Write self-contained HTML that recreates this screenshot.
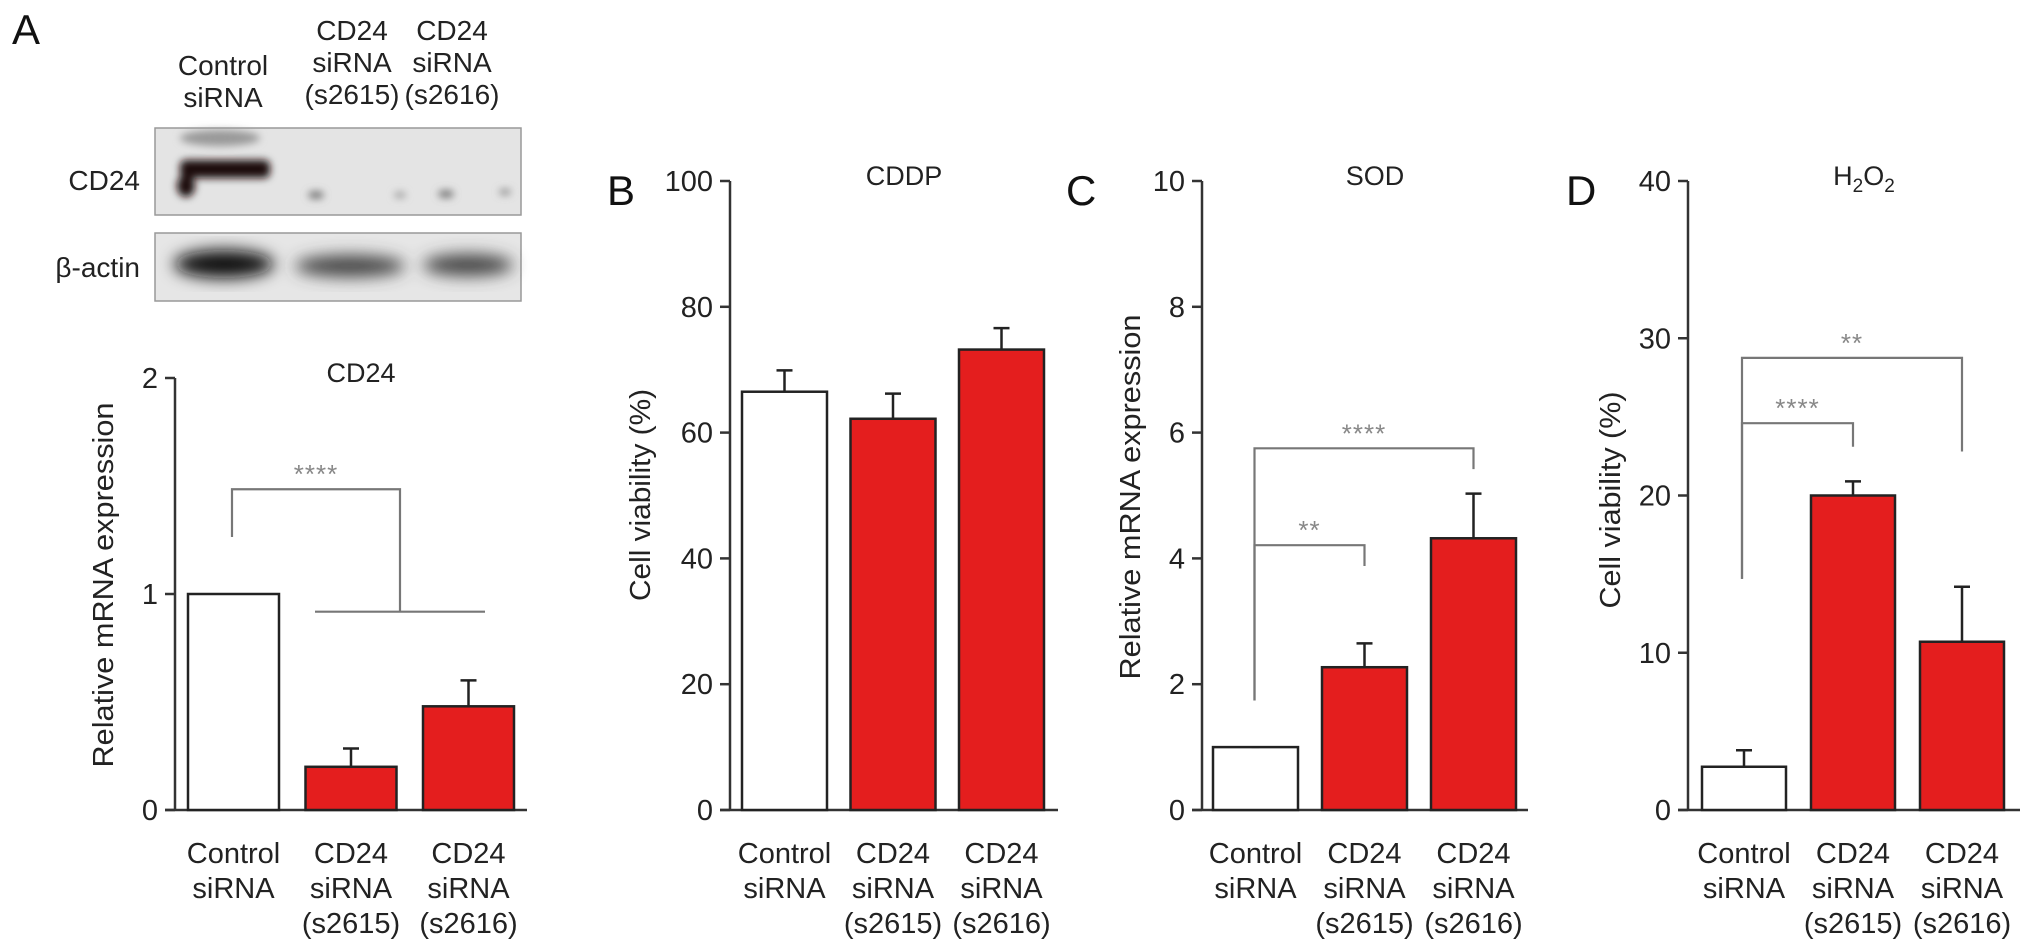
<!DOCTYPE html>
<html><head><meta charset="utf-8">
<style>
html,body{margin:0;padding:0;background:#fff;}
svg{display:block;font-family:"Liberation Sans",Arial,sans-serif;}
</style></head>
<body>
<svg id="fig" xmlns="http://www.w3.org/2000/svg" width="2032" height="951" viewBox="0 0 2032 951">
  <defs>
    <filter id="blur3" x="-20%" y="-50%" width="140%" height="200%"><feGaussianBlur stdDeviation="4"/></filter>
    <filter id="blur6" x="-20%" y="-50%" width="140%" height="200%"><feGaussianBlur stdDeviation="8"/></filter>
  </defs>
  <g>
    <text x="12" y="44" font-size="42" fill="#111">A</text>
    <g font-size="28" fill="#222" text-anchor="middle">
      <text x="223" y="75">Control</text>
      <text x="223" y="107">siRNA</text>
      <text x="352" y="40">CD24</text>
      <text x="352" y="72">siRNA</text>
      <text x="352" y="104">(s2615)</text>
      <text x="452" y="40">CD24</text>
      <text x="452" y="72">siRNA</text>
      <text x="452" y="104">(s2616)</text>
    </g>
    <text x="140" y="190" font-size="28" fill="#222" text-anchor="end">CD24</text>
    <text x="140" y="277" font-size="28" fill="#222" text-anchor="end">β-actin</text>
    <rect x="155" y="128" width="366" height="87" fill="#e4e4e4" stroke="#999" stroke-width="1.5"/>
    <g filter="url(#blur3)">
      <rect x="180" y="160" width="90" height="18" rx="6" fill="#1a0d0d"/>
      <ellipse cx="186" cy="186" rx="9" ry="11" fill="#1a0d0d"/>
      <ellipse cx="220" cy="138" rx="40" ry="8" fill="#999"/>
      <ellipse cx="316" cy="195" rx="8" ry="4" fill="#777"/>
      <ellipse cx="446" cy="194" rx="8" ry="4" fill="#777"/>
      <ellipse cx="505" cy="192" rx="6" ry="3" fill="#888"/>
      <ellipse cx="400" cy="195" rx="6" ry="3" fill="#999"/>
    </g>
    <rect x="155" y="233" width="366" height="68" fill="#e6e6e6" stroke="#999" stroke-width="1.5"/>
    <g filter="url(#blur6)">
      <ellipse cx="224" cy="264" rx="50" ry="14" fill="#111"/>
      <ellipse cx="350" cy="266" rx="55" ry="11" fill="#444"/>
      <ellipse cx="468" cy="265" rx="45" ry="11" fill="#444"/>
    </g>
  </g>
  <g id="charts"></g>
</svg>
<script>
const categories = [["Control","siRNA"],["CD24","siRNA","(s2615)"],["CD24","siRNA","(s2616)"]];
const aValues = [1.0, 0.20, 0.48];
const aErrors = [0.0, 0.085, 0.12];
const aTicks = [0, 1, 2];
const bValues = [66.5, 62.2, 73.2];
const bErrors = [3.4, 4.0, 3.4];
const bTicks = [0, 20, 40, 60, 80, 100];
const cValues = [1.0, 2.27, 4.32];
const cErrors = [0.0, 0.38, 0.71];
const cTicks = [0, 2, 4, 6, 8, 10];
const dValues = [2.75, 20.0, 10.7];
const dErrors = [1.05, 0.9, 3.5];
const dTicks = [0, 10, 20, 30, 40];
const aBrackets = [[0, 1.5, 1.485, 1.264, 0.918, "****"]];
const cBrackets = [[0, 1, 4.21, 1.74, 3.88, "**"], [0, 2, 5.75, 1.74, 5.42, "****"]];
const dBrackets = [[0, 1, 24.6, 14.7, 23.1, "****"], [0, 2, 28.75, 14.7, 22.8, "**"]];

const NS = "http://www.w3.org/2000/svg";
const root = document.getElementById("charts");
function mk(tag, attrs, parent) {
  const e = document.createElementNS(NS, tag);
  for (const k in attrs) e.setAttribute(k, attrs[k]);
  parent.appendChild(e);
  return e;
}

const panels = [
  {key:"a", letter:null, title:"CD24", ylabel:"Relative mRNA expression", ylen:365,
   values:aValues, errors:aErrors, ticks:aTicks, brackets:aBrackets, max:2,
   ax:175, axEnd:527, yTop:378, y0:810, off:13, step:117.5, bw:91, ylx:103, yly:585, colors:["#fff","#e41e1e","#e41e1e"]},
  {key:"b", letter:"B", lx:607, title:"CDDP", ylabel:"Cell viability (%)", ylen:212,
   values:bValues, errors:bErrors, ticks:bTicks, brackets:[], max:100,
   ax:730, axEnd:1058, yTop:181, y0:810, off:12, step:108.5, bw:85, ylx:640, yly:495, colors:["#fff","#e41e1e","#e41e1e"]},
  {key:"c", letter:"C", lx:1066, title:"SOD", ylabel:"Relative mRNA expression", ylen:365,
   values:cValues, errors:cErrors, ticks:cTicks, brackets:cBrackets, max:10,
   ax:1202, axEnd:1528, yTop:181, y0:810, off:11, step:109, bw:85, ylx:1130, yly:497, colors:["#fff","#e41e1e","#e41e1e"]},
  {key:"d", letter:"D", lx:1566, title:"H2O2", ylabel:"Cell viability (%)", ylen:217,
   values:dValues, errors:dErrors, ticks:dTicks, brackets:dBrackets, max:40,
   ax:1688, axEnd:2020, yTop:181, y0:810, off:14, step:109, bw:84, ylx:1610, yly:500, colors:["#fff","#e41e1e","#e41e1e"]}
];

panels.forEach(p => {
  const g = mk("g", {}, root);
  
  
  const y = v => p.y0 - (v / p.max) * (p.y0 - p.yTop);
  const bx = i => p.ax + p.off + i * p.step;
  const cx = i => bx(i) + p.bw / 2;

  if (p.letter) {
    const L = mk("text", {x:p.lx, y:205, "font-size":42, fill:"#111"}, g);
    
    
    L.textContent = p.letter;
  }
  const tcx = (p.ax + p.axEnd) / 2 + 10;
  const tt = mk("text", {x:tcx, y:p.yTop + 4, "font-size":27, fill:"#222", "text-anchor":"middle"}, g);
  
  
  if (p.title === "H2O2") {
    tt.innerHTML = 'H<tspan font-size="19" dy="7">2</tspan><tspan dy="-7">O</tspan><tspan font-size="19" dy="7">2</tspan>';
  } else tt.textContent = p.title;

  const yl = mk("text", {x:0, y:0, "font-size":29, fill:"#222", "text-anchor":"middle",
    transform:`translate(${p.ylx},${p.yly}) rotate(-90)`, textLength:p.ylen, lengthAdjust:"spacingAndGlyphs", dy:"10"}, g);
  
  
  yl.textContent = p.ylabel;

  const ya = mk("line", {x1:p.ax, y1:p.yTop, x2:p.ax, y2:p.y0, stroke:"#333", "stroke-width":2.5}, g);
  
  
  const xa = mk("line", {x1:p.ax - 10, y1:p.y0, x2:p.axEnd, y2:p.y0, stroke:"#333", "stroke-width":2.5}, g);
  
  
  p.ticks.forEach(t => {
    const tl = mk("line", {x1:p.ax - 10, y1:y(t), x2:p.ax, y2:y(t), stroke:"#333", "stroke-width":2.5}, g);
    
    
    const tx = mk("text", {x:p.ax - 17, y:y(t) + 10, "font-size":29, fill:"#222", "text-anchor":"end"}, g);
    
    
    tx.textContent = t;
  });

  p.values.forEach((v, i) => {
    const r = mk("rect", {x:bx(i), y:y(v), width:p.bw, height:p.y0 - y(v), fill:p.colors[i], stroke:"#222", "stroke-width":2.5}, g);
    
    
    const e = p.errors[i];
    if (e > 0) {
      const el = mk("path", {d:`M${cx(i)},${y(v)} V${y(v + e)} M${cx(i) - 8},${y(v + e)} H${cx(i) + 8}`, stroke:"#222", "stroke-width":2.5, fill:"none"}, g);
      
      
    } else {
      const el = mk("line", {x1:cx(i) - 4, y1:y(v), x2:cx(i) + 4, y2:y(v), stroke:"#222", "stroke-width":2}, g);
      
      
    }
    const lines = categories[i];
    lines.forEach((s, k) => {
      const lt = mk("text", {x:cx(i), y:863 + k * 35, "font-size":29, fill:"#222", "text-anchor":"middle"}, g);
      
      
      lt.textContent = s;
    });
  });

  p.brackets.forEach(b => {
    const x1 = p.key === "a" ? 232 : cx(b[0]) - (p.key === "c" ? 1 : 2);
    let x2 = cx(b[1]);
    if (p.key === "a") x2 = 400;
    let d = `M${x1},${y(b[3])} V${y(b[2])} H${x2} V${y(b[4])}`;
    if (p.key === "a") d += ` M315,${y(b[4])} H485`;
    const bp = mk("path", {d, stroke:"#777", "stroke-width":2.2, fill:"none"}, g);
    
    
    const st = mk("text", {x:(x1 + x2) / 2, y:y(b[2]) - 6, "font-size":26, fill:"#888", "text-anchor":"middle", "letter-spacing":"1"}, g);
    
    
    st.textContent = b[5];
  });
});
</script>
</body></html>
